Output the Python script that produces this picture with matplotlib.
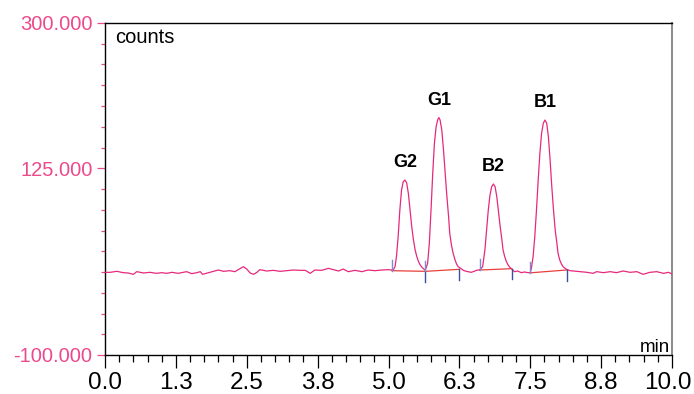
import matplotlib
matplotlib.use("Agg")
import matplotlib.pyplot as plt
import matplotlib.transforms as mtransforms
from matplotlib.ticker import FixedLocator, FormatStrFormatter, MultipleLocator

plt.rcParams['font.family'] = ['Liberation Sans', 'DejaVu Sans']

# ---- data ----
time_min = [0.00, 0.09, 0.21, 0.32, 0.41, 0.50, 0.56, 0.68, 0.79, 0.91, 1.00, 1.09, 1.18, 1.29,
            1.44, 1.53, 1.62, 1.68, 1.72, 1.85, 1.94, 2.00, 2.09, 2.20, 2.29, 2.37, 2.44, 2.50,
            2.56, 2.62, 2.68, 2.73, 2.85, 2.97, 3.09, 3.20, 3.32, 3.44, 3.53, 3.62, 3.70, 3.82,
            3.94, 4.03, 4.12, 4.20, 4.29, 4.41, 4.53, 4.64, 4.76, 4.88, 5.00, 5.06,
            5.09, 5.115, 5.14, 5.17, 5.20, 5.23, 5.26, 5.29, 5.32, 5.35, 5.38, 5.41, 5.44, 5.47,
            5.50, 5.53, 5.56, 5.59, 5.63, 5.65,
            5.69, 5.72, 5.75, 5.78, 5.81, 5.84, 5.87, 5.89, 5.91, 5.94, 5.97, 6.00, 6.03, 6.06,
            6.08, 6.11, 6.14, 6.17, 6.20, 6.23, 6.28,
            6.33, 6.40, 6.46, 6.52, 6.57,
            6.61, 6.66, 6.70, 6.73, 6.76, 6.79, 6.82, 6.85, 6.88, 6.91, 6.94, 6.97, 7.00, 7.02,
            7.05, 7.08, 7.11, 7.14, 7.17,
            7.22, 7.28, 7.34, 7.40, 7.46,
            7.50, 7.52, 7.55, 7.58, 7.61, 7.64, 7.67, 7.70, 7.73, 7.76, 7.79, 7.82, 7.85, 7.88,
            7.91, 7.94, 7.97, 7.99, 8.02, 8.05, 8.08, 8.13, 8.20,
            8.26, 8.38, 8.50, 8.61, 8.67, 8.79, 8.91, 9.02, 9.14, 9.26, 9.38, 9.49, 9.61, 9.73,
            9.85, 9.94, 10.00]
counts = [-0.4, -0.4, 0.8, -0.8, -1.2, -2.8, 0.4, -1.2, -0.4, -1.6, -0.8, -1.6, -0.4, -1.6,
          0.4, -2.0, -0.8, 0.4, -2.8, -0.4, 1.2, 2.4, 0.8, 1.6, 0.4, 3.6, 6.4, 3.6,
          -1.2, -2.8, -0.4, 2.8, 1.2, 2.0, 0.8, 1.6, 2.4, 2.0, 2.0, -1.6, 2.4, 2.0,
          4.4, 2.8, 1.2, 3.6, 0.4, 2.0, 0.4, 2.4, 1.6, 2.4, 2.8, 2.4,
          3.2, 6.4, 18.4, 42.5, 74.7, 98.8, 108.8, 110.8, 107.6, 94.8, 74.7, 54.6, 38.6, 26.5,
          18.4, 12.4, 8.4, 5.6, 3.2, 2.4,
          10.4, 34.5, 74.7, 118.9, 155.1, 175.1, 184.0, 186.0, 183.1, 171.1, 147.0, 118.9, 90.7, 66.6,
          46.6, 32.5, 22.5, 15.3, 9.6, 6.4, 4.0,
          1.6, 0.4, -0.4, 1.2, 2.4,
          2.4, 6.4, 26.5, 50.6, 74.7, 92.8, 102.8, 106.0, 102.8, 90.7, 72.7, 54.6, 38.6, 26.5,
          18.4, 12.4, 8.4, 5.6, 4.0,
          0.4, 1.2, -0.8, 0.0, -0.8,
          -0.8, 4.4, 18.4, 42.5, 74.7, 110.8, 143.0, 167.1, 179.2, 183.1, 179.2, 163.1, 134.9, 102.8,
          74.7, 50.6, 34.5, 22.5, 14.5, 9.6, 6.4, 3.6, 1.6,
          1.2, 0.4, -0.4, -1.6, 0.4, -0.8, 0.4, -0.8, 1.2, -0.4, 0.4, -2.8, -0.4, 0.4,
          -1.6, -0.4, -2.4]

peak_names = ['G2', 'G1', 'B2', 'B1']
peak_time = [5.29, 5.89, 6.85, 7.76]
peak_height = [110.8, 186.0, 106.0, 183.1]

base_start_t = [5.06, 5.65, 6.61, 7.50]
base_start_v = [1.6, 0.8, 2.4, -1.0]
base_end_t = [5.65, 6.24, 7.17, 8.14]
base_end_v = [0.8, 3.2, 4.0, 2.4]

x_major = [0.0, 1.25, 2.5, 3.75, 5.0, 6.25, 7.5, 8.75, 10.0]
x_labels = ['0.0', '1.3', '2.5', '3.8', '5.0', '6.3', '7.5', '8.8', '10.0']
y_major = [-100, 125, 300]

# ---- figure ----
trace_col = '#e6297d'
label_pink = '#ec4a8c'

fig = plt.figure(figsize=(6.94, 3.94), dpi=100)
ax = fig.add_axes([105 / 694, 39 / 394, 567 / 694, 332 / 394])

ax.plot(time_min, counts, color=trace_col, lw=0.9, zorder=3)

# integration baselines and event markers
mk = 13
for ts, vs, te, ve in zip(base_start_t, base_start_v, base_end_t, base_end_v):
    ax.plot([ts, te], [vs, ve], color='#e8403a', lw=0.9, zorder=2)
    ax.plot([ts, ts], [vs, vs + mk], color='#7b8fd0', lw=1.0, zorder=4)
    ax.plot([te, te], [ve, ve - mk], color='#3c4f9c', lw=1.0, zorder=4)

for name, t, h in zip(peak_names, peak_time, peak_height):
    ax.annotate(name, (t, h), xytext=(0, 12.5), textcoords='offset points',
                ha='center', va='center', fontsize=13, fontweight='bold', color='black')

ax.set_xlim(0, 10)
ax.set_ylim(-100, 300)

ax.xaxis.set_major_locator(FixedLocator(x_major))
ax.set_xticklabels(x_labels)
ax.xaxis.set_minor_locator(MultipleLocator(0.25))
ax.tick_params(axis='x', which='major', direction='out', length=9.5, width=0.9,
               color='black', labelsize=17.5, pad=2.5, labelcolor='black')
ax.tick_params(axis='x', which='minor', direction='out', length=5, width=0.9, color='black')

# keep the last x label inside the canvas
last = ax.get_xticklabels()[-1]
last.set_transform(last.get_transform() +
                   mtransforms.ScaledTranslation(-4 / 100, 0, fig.dpi_scale_trans))

ax.yaxis.set_major_locator(FixedLocator(y_major))
ax.yaxis.set_major_formatter(FormatStrFormatter('%.3f'))
ax.yaxis.set_minor_locator(MultipleLocator(25))
ax.tick_params(axis='y', which='major', direction='out', length=6, width=0.9,
               color=label_pink, labelsize=14.5, pad=3, labelcolor=label_pink)
ax.tick_params(axis='y', which='minor', direction='out', length=3, width=0.9, color=label_pink)

for s in ['left', 'top', 'bottom']:
    ax.spines[s].set_color('black')
    ax.spines[s].set_linewidth(1.0)
ax.spines['right'].set_color('#8a8a8a')
ax.spines['right'].set_linewidth(1.4)

ax.text(0.0176, 0.985, 'counts', transform=ax.transAxes, ha='left', va='top', fontsize=14.5)
ax.text(0.997, 0.01, 'min', transform=ax.transAxes, ha='right', va='baseline', fontsize=13.5)

fig.savefig('out.png', dpi=100)
